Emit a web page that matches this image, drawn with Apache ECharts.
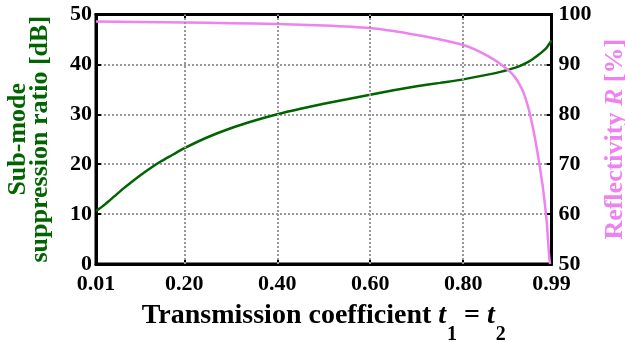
<!DOCTYPE html>
<html><head><meta charset="utf-8">
<script src="https://cdn.jsdelivr.net/npm/echarts@6/dist/echarts.min.js"></script>
<style>html,body{margin:0;padding:0;background:#fff}#c{width:625px;height:342px}</style>
</head><body><div id="c"></div>
<script>
// Sub-mode suppression ratio [dB] vs transmission coefficient
const tSMSR = [0.01,0.03,0.05,0.07,0.09,0.11,0.13,0.15,0.175,0.20,0.25,0.30,0.35,0.40,0.45,0.50,0.55,0.60,0.65,0.70,0.75,0.80,0.85,0.88,0.90,0.92,0.94,0.95,0.96,0.97,0.98,0.99];
const smsr  = [10.6,12.0,13.6,15.2,16.7,18.1,19.4,20.6,21.9,23.2,25.4,27.2,28.7,30.0,31.1,32.1,33.0,33.9,34.8,35.6,36.3,37.0,37.9,38.5,39.0,39.6,40.5,41.1,41.8,42.5,43.4,44.8];
// Reflectivity R [%]
const tR = [0.01,0.10,0.20,0.30,0.40,0.50,0.60,0.65,0.70,0.75,0.80,0.82,0.84,0.86,0.88,0.90,0.91,0.92,0.93,0.94,0.95,0.96,0.97,0.975,0.98,0.985,0.987];
const reflectivity = [98.6,98.5,98.4,98.25,98.1,97.8,97.3,96.7,95.9,95.0,93.9,93.2,92.3,91.3,90.1,88.6,87.6,86.2,84.3,81.4,77.3,72.3,66.3,62.6,58.2,51.5,50.0];
const xTicks = [0.01,0.20,0.40,0.60,0.80,0.99];
const xGrid = [0.20,0.40,0.60,0.80];

const FONT = '"Liberation Serif","Times New Roman",serif';
const GREEN = '#006400', PINK = '#EE82EE';
const gridLine = {show:true, lineStyle:{color:'#999', width:2, type:[2,2]}};
const tickStyle = {show:true, inside:true, length:5, lineStyle:{color:'#000', width:2}};
const labelStyle = {color:'#000', fontFamily:FONT, fontWeight:'bold', fontSize:22};

const chart = echarts.init(document.getElementById('c'), null, {renderer:'canvas'});
chart.setOption({
  animation:false,
  backgroundColor:'#fff',
  grid:{left:96, right:73.5, top:14.5, bottom:78, show:true, borderColor:'#000', borderWidth:3,
        backgroundColor:'transparent', outerBoundsMode:'none', containLabel:false},
  xAxis:[{
    type:'value', min:0.01, max:0.99, position:'bottom',
    axisLine:{show:true, onZero:false, lineStyle:{color:'#000', width:3}},
    axisTick:Object.assign({customValues:xTicks}, tickStyle),
    axisLabel:Object.assign({customValues:xTicks, margin:9, formatter:v=>v.toFixed(2)}, labelStyle),
    splitLine:{show:false},
    name:'Transmission coefficient {it|t}{sub|1} = {it|t}{sub|2}',
    nameLocation:'middle', nameGap:23,
    nameTextStyle:{color:'#000', fontFamily:FONT, fontWeight:'bold', fontSize:28,
      rich:{
        it:{fontFamily:FONT, fontWeight:'bold', fontStyle:'italic', fontSize:28, color:'#000'},
        sub:{fontFamily:FONT, fontWeight:'bold', fontSize:20, color:'#000', padding:[38,0,0,1]}
      }}
  },{
    type:'value', min:0.01, max:0.99, position:'top',
    axisLine:{show:true, onZero:false, lineStyle:{color:'#000', width:3}},
    axisTick:Object.assign({customValues:xTicks}, tickStyle),
    axisLabel:{show:false}, splitLine:{show:false}
  }],
  yAxis:[{
    type:'value', min:0, max:50, interval:10, position:'left',
    axisLine:{show:true, onZero:false, lineStyle:{color:'#000', width:3}},
    axisTick:tickStyle,
    axisLabel:Object.assign({margin:4}, labelStyle),
    splitLine:gridLine,
    name:'Sub-mode\nsuppression ratio [dB]', nameLocation:'middle', nameRotate:90, nameGap:45,
    nameTextStyle:{color:GREEN, fontFamily:FONT, fontWeight:'bold', fontSize:26, lineHeight:22}
  },{
    type:'value', min:50, max:100, interval:10, position:'right',
    axisLine:{show:true, onZero:false, lineStyle:{color:'#000', width:3}},
    axisTick:tickStyle,
    axisLabel:Object.assign({margin:7}, labelStyle),
    splitLine:{show:false},
    name:'Reflectivity {it|R} [%]', nameLocation:'middle', nameRotate:90, nameGap:50,
    nameTextStyle:{color:PINK, fontFamily:FONT, fontWeight:'bold', fontSize:26, lineHeight:22,
      rich:{it:{fontFamily:FONT, fontWeight:'bold', fontStyle:'italic', fontSize:26, lineHeight:22, color:PINK}}}
  }],
  series:[{
    type:'line', name:'SMSR', xAxisIndex:0, yAxisIndex:0,
    data:tSMSR.map((t,i)=>[t,smsr[i]]),
    showSymbol:false, smooth:0.25, lineStyle:{color:GREEN, width:2.5}, z:3,
    markLine:{silent:true, symbol:['none','none'], label:{show:false},
      lineStyle:{color:'#999', width:2, type:[2,2]},
      data:xGrid.map(v=>({xAxis:v}))}
  },{
    type:'line', name:'R', xAxisIndex:0, yAxisIndex:1,
    data:tR.map((t,i)=>[t,reflectivity[i]]),
    showSymbol:false, smooth:0.25, lineStyle:{color:PINK, width:2.5}, z:4
  }]
});
</script></body></html>
